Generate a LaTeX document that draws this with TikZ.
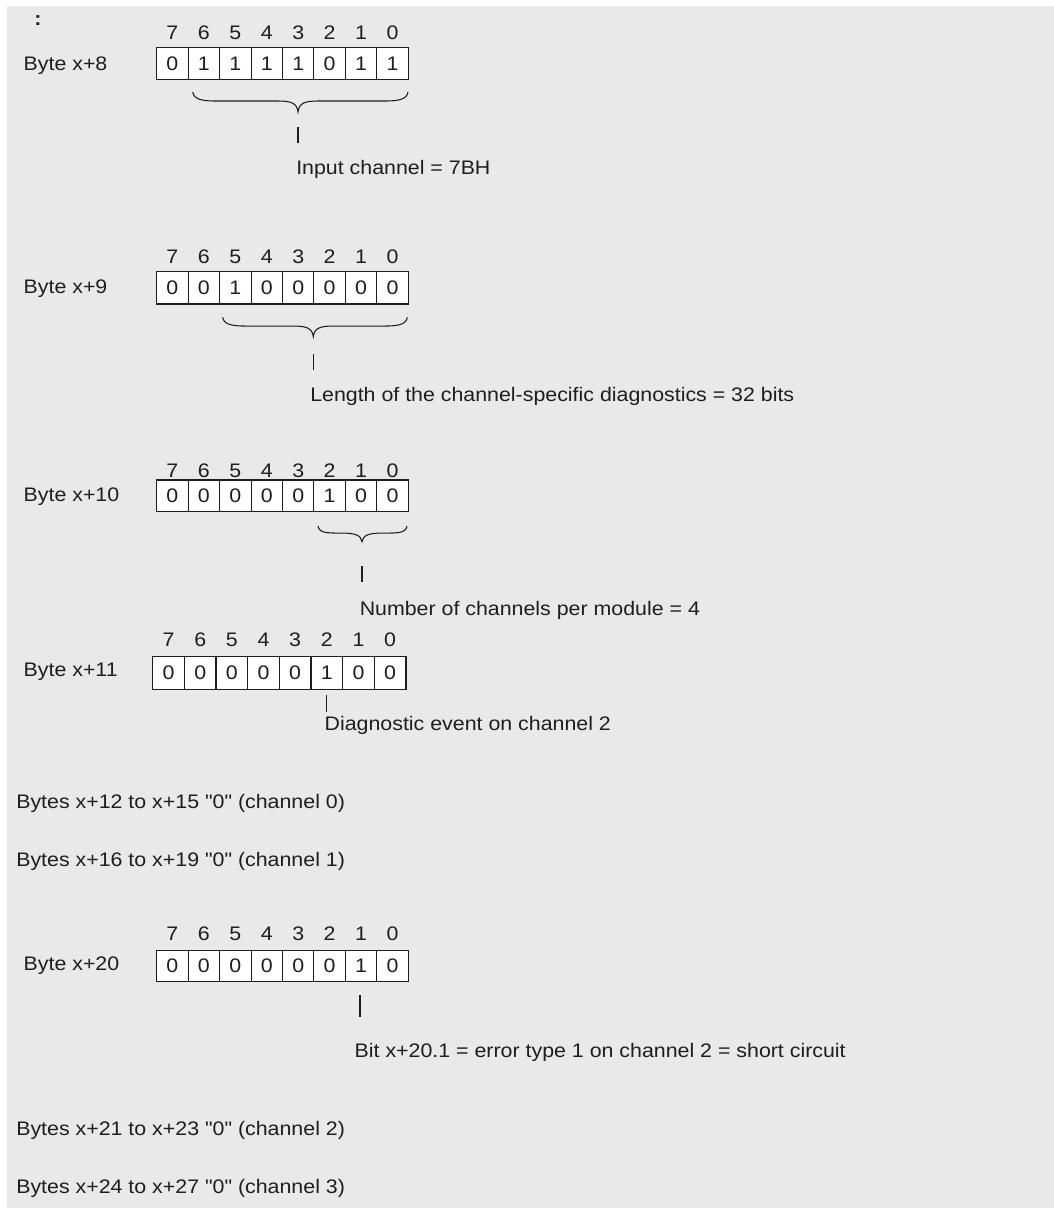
\documentclass[tikz,border=0pt]{standalone}
\usepackage{fontspec}
\setmainfont{Liberation Sans}[FakeStretch=1.09, Ligatures=TeXOff]
\definecolor{bg}{RGB}{233,233,233}
\definecolor{ink}{RGB}{30,30,30}
\tikzset{
  cell/.style={draw=ink, fill=white, line width=0.8pt, inner sep=0pt, text=ink},
  bitnum/.style={inner sep=0pt, text=ink},
  txt/.style={inner sep=0pt, text=ink, anchor=base west},
  bracestyle/.style={draw=ink, line width=0.8pt},
  tick/.style={draw=ink, line width=0.9pt},
}
% #1 name, #2 left x, #3 top y, #4 cell width, #5 cell height, #6 number row y, #7 bits
\newcommand\drawbyte[7]{%
  \foreach \b [count=\i from 0] in {#7} {
    \pgfmathtruncatemacro\k{7-\i}
    \node[cell, minimum width={#4*0.75pt}, minimum height={#5*0.75pt}] (#1c\k) at ({#2+#4*(\i+0.5)},{#3+#5/2}) {\b};
    \node[bitnum] (#1n\k) at ({#2+#4*(\i+0.5)},{#6}) {\k};
  }}
% #1 name, #2 x1, #3 x2, #4 xc, #5 top, #6 tip
\newcommand\drawbrace[6]{%
  \pgfmathsetmacro\mymid{#5+(#6-#5)*0.45}
  \coordinate (#1l) at (#2,#5);
  \coordinate (#1r) at (#3,#5);
  \coordinate (#1t) at (#4,#6);
  \draw[bracestyle] (#1l) .. controls ({#2+1},{#5+7}) and ({#2+9},{\mymid}) .. ({#2+22},{\mymid})
    -- ({#4-20},{\mymid}) .. controls ({#4-7},{\mymid}) and ({#4-1},{\mymid+2}) .. (#1t)
    .. controls ({#4+1},{\mymid+2}) and ({#4+7},{\mymid}) .. ({#4+20},{\mymid})
    -- ({#3-22},{\mymid}) .. controls ({#3-9},{\mymid}) and ({#3-1},{#5+7}) .. (#1r);
}
\begin{document}
\begin{tikzpicture}[x=0.75pt,y=-0.75pt,font=\fontsize{14.7}{17}\selectfont]
\useasboundingbox (0,0) rectangle (1054,1208);
\fill[bg] (7,6) rectangle (1054,1208);

% colon
\node[txt, anchor=base] (dots) at (38,25) {\textbf{:}};

% Byte x+8
\node[txt] (l8) at (23.4,70.5) {Byte x+8};
\drawbyte{b8}{156.7}{47.3}{31.45}{32}{33}{0,1,1,1,1,0,1,1}
\drawbrace{br8}{192.7}{408}{298}{92}{112}
\coordinate (t8a) at (298,127);
\coordinate (t8b) at (298,143);
\draw[tick] (t8a) -- (t8b);
\node[txt] (d8) at (296,174) {Input channel = 7BH};

% Byte x+9
\node[txt] (l9) at (23.4,293.5) {Byte x+9};
\drawbyte{b9}{156.7}{271.7}{31.45}{32.3}{257}{0,0,1,0,0,0,0,0}
\drawbrace{br9}{222.7}{407.3}{313.3}{317.3}{336.7}
\coordinate (t9a) at (313.3,354);
\coordinate (t9b) at (313.3,370);
\draw[tick] (t9a) -- (t9b);
\node[txt] (d9) at (310,401.7) {Length of the channel-specific diagnostics = 32 bits};

% Byte x+10
\node[txt] (l10) at (23.4,501.7) {Byte x+10};
\drawbyte{b10}{156.7}{480}{31.45}{31.7}{471}{0,0,0,0,0,1,0,0}
\drawbrace{br10}{318}{407}{362}{526}{541.7}
\coordinate (t10a) at (362,566);
\coordinate (t10b) at (362,581.7);
\draw[tick] (t10a) -- (t10b);
\node[txt] (d10) at (359.5,615) {Number of channels per module = 4};

% Byte x+11
\node[txt] (l11) at (23.4,676.7) {Byte x+11};
\drawbyte{b11}{152.7}{656.7}{31.66}{32.6}{639.5}{0,0,0,0,0,1,0,0}
\coordinate (t11a) at (326.5,695);
\coordinate (t11b) at (326.5,711.7);
\draw[tick] (t11a) -- (t11b);
\node[txt] (d11) at (324.4,730) {Diagnostic event on channel 2};

% Bytes x+12 .. x+19
\node[txt] (z0) at (16,808.3) {Bytes x+12 to x+15 "0" (channel 0)};
\node[txt] (z1) at (16,866.7) {Bytes x+16 to x+19 "0" (channel 1)};

% Byte x+20
\node[txt] (l20) at (23.4,970.7) {Byte x+20};
\drawbyte{b20}{156.7}{950.7}{31.45}{31}{933.5}{0,0,0,0,0,0,1,0}
\coordinate (t20a) at (360,995);
\coordinate (t20b) at (360,1017);
\draw[tick] (t20a) -- (t20b);
\node[txt] (d20) at (354.4,1057.3) {Bit x+20.1 = error type 1 on channel 2 = short circuit};

% Bytes x+21 .. x+27
\node[txt] (z2) at (16,1135) {Bytes x+21 to x+23 "0" (channel 2)};
\node[txt] (z3) at (16,1193.3) {Bytes x+24 to x+27 "0" (channel 3)};
\end{tikzpicture}
\end{document}
